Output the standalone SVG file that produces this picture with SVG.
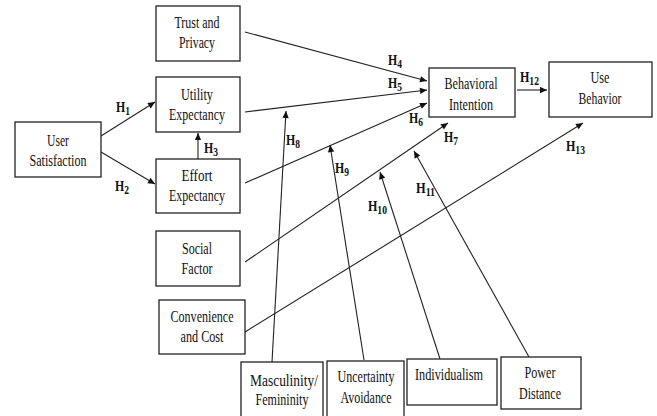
<svg xmlns="http://www.w3.org/2000/svg" width="657" height="416" viewBox="0 0 657 416">
<style>
.box{fill:#fff;stroke:#222;stroke-width:1.3}
.t{font-family:"Liberation Serif","Times New Roman",serif;font-size:17px;fill:#111;text-anchor:middle}
.h{font-family:"Liberation Serif","Times New Roman",serif;font-size:15px;font-weight:bold;fill:#111}
.s{font-size:12px}
.c line{stroke:#222;stroke-width:1.1;fill:none}
.a{marker-end:url(#ah)}
</style>
<defs>
<marker id="ah" viewBox="0 0 10 10" refX="10" refY="5" markerWidth="8" markerHeight="7" markerUnits="userSpaceOnUse" orient="auto">
<path d="M0,0.5 L10,5 L0,9.5 z" fill="#111"/>
</marker>
</defs>
<rect width="657" height="416" fill="#fff"/>
<g class="c">
<line class="a" x1="101" y1="136" x2="155" y2="102"/>
<line class="a" x1="101" y1="152" x2="155" y2="184"/>
<line class="a" x1="198" y1="159" x2="198" y2="133"/>
<line class="a" x1="245" y1="32" x2="427" y2="81"/>
<line class="a" x1="245" y1="112" x2="427" y2="90"/>
<line class="a" x1="245" y1="183" x2="427" y2="103"/>
<line class="a" x1="245" y1="262" x2="448" y2="123"/>
<line class="a" x1="245" y1="332" x2="583" y2="123"/>
<line class="a" x1="517" y1="90" x2="547" y2="90"/>
<line class="a" x1="272" y1="362" x2="286" y2="111"/>
<line class="a" x1="364" y1="360" x2="330" y2="145"/>
<line class="a" x1="440" y1="359" x2="380" y2="172"/>
<line class="a" x1="529" y1="357" x2="414" y2="151"/>
</g>
<g id="trust"><rect class="box" x="156" y="6" width="84" height="55"/><text class="t" x="197" y="28" textLength="45" lengthAdjust="spacingAndGlyphs">Trust and</text><text class="t" x="197" y="48" textLength="36" lengthAdjust="spacingAndGlyphs">Privacy</text></g>
<g id="utility"><rect class="box" x="156" y="77" width="84" height="55"/><text class="t" x="197" y="100" textLength="32" lengthAdjust="spacingAndGlyphs">Utility</text><text class="t" x="197" y="120" textLength="56" lengthAdjust="spacingAndGlyphs">Expectancy</text></g>
<g id="user"><rect class="box" x="15" y="122" width="86" height="55"/><text class="t" x="58" y="146" textLength="22" lengthAdjust="spacingAndGlyphs">User</text><text class="t" x="58" y="166" textLength="57" lengthAdjust="spacingAndGlyphs">Satisfaction</text></g>
<g id="effort"><rect class="box" x="156" y="159" width="84" height="54"/><text class="t" x="197" y="181" textLength="31" lengthAdjust="spacingAndGlyphs">Effort</text><text class="t" x="197" y="201" textLength="56" lengthAdjust="spacingAndGlyphs">Expectancy</text></g>
<g id="social"><rect class="box" x="156" y="231" width="84" height="55"/><text class="t" x="197" y="254" textLength="30" lengthAdjust="spacingAndGlyphs">Social</text><text class="t" x="197" y="274" textLength="31" lengthAdjust="spacingAndGlyphs">Factor</text></g>
<g id="convenience"><rect class="box" x="159" y="300" width="86" height="54"/><text class="t" x="202" y="322" textLength="63" lengthAdjust="spacingAndGlyphs">Convenience</text><text class="t" x="202" y="342" textLength="43" lengthAdjust="spacingAndGlyphs">and Cost</text></g>
<g id="masculinity"><rect class="box" x="241" y="362" width="82" height="58"/><text class="t" x="284" y="386" textLength="68" lengthAdjust="spacingAndGlyphs">Masculinity/</text><text class="t" x="282" y="405" textLength="53" lengthAdjust="spacingAndGlyphs">Femininity</text></g>
<g id="uncertainty"><rect class="box" x="327" y="361" width="77" height="59"/><text class="t" x="366" y="382" textLength="57" lengthAdjust="spacingAndGlyphs">Uncertainty</text><text class="t" x="366" y="403" textLength="51" lengthAdjust="spacingAndGlyphs">Avoidance</text></g>
<g id="individualism"><rect class="box" x="407" y="359" width="90" height="46"/><text class="t" x="449" y="380" textLength="68" lengthAdjust="spacingAndGlyphs">Individualism</text></g>
<g id="power"><rect class="box" x="501" y="357" width="80" height="52"/><text class="t" x="540" y="378" textLength="31" lengthAdjust="spacingAndGlyphs">Power</text><text class="t" x="540" y="399" textLength="42" lengthAdjust="spacingAndGlyphs">Distance</text></g>
<g id="intention"><rect class="box" x="429" y="68" width="86" height="49"/><text class="t" x="471" y="89" textLength="53" lengthAdjust="spacingAndGlyphs">Behavioral</text><text class="t" x="471" y="110" textLength="44" lengthAdjust="spacingAndGlyphs">Intention</text></g>
<g id="usebehavior"><rect class="box" x="549" y="62" width="103" height="55"/><text class="t" x="600" y="83" textLength="19" lengthAdjust="spacingAndGlyphs">Use</text><text class="t" x="600" y="104" textLength="43" lengthAdjust="spacingAndGlyphs">Behavior</text></g>
<g id="labels">
<text class="h" x="116" y="112" textLength="14" lengthAdjust="spacingAndGlyphs">H<tspan class="s" dy="3">1</tspan></text>
<text class="h" x="115" y="191" textLength="14" lengthAdjust="spacingAndGlyphs">H<tspan class="s" dy="3">2</tspan></text>
<text class="h" x="204" y="153" textLength="14" lengthAdjust="spacingAndGlyphs">H<tspan class="s" dy="3">3</tspan></text>
<text class="h" x="388" y="65" textLength="14" lengthAdjust="spacingAndGlyphs">H<tspan class="s" dy="3">4</tspan></text>
<text class="h" x="388" y="88" textLength="14" lengthAdjust="spacingAndGlyphs">H<tspan class="s" dy="3">5</tspan></text>
<text class="h" x="409" y="123" textLength="14" lengthAdjust="spacingAndGlyphs">H<tspan class="s" dy="3">6</tspan></text>
<text class="h" x="444" y="142" textLength="14" lengthAdjust="spacingAndGlyphs">H<tspan class="s" dy="3">7</tspan></text>
<text class="h" x="286" y="145" textLength="14" lengthAdjust="spacingAndGlyphs">H<tspan class="s" dy="3">8</tspan></text>
<text class="h" x="335" y="173" textLength="14" lengthAdjust="spacingAndGlyphs">H<tspan class="s" dy="3">9</tspan></text>
<text class="h" x="368" y="211" textLength="19" lengthAdjust="spacingAndGlyphs">H<tspan class="s" dy="3">10</tspan></text>
<text class="h" x="416" y="193" textLength="19" lengthAdjust="spacingAndGlyphs">H<tspan class="s" dy="3">11</tspan></text>
<text class="h" x="520" y="82" textLength="19" lengthAdjust="spacingAndGlyphs">H<tspan class="s" dy="3">12</tspan></text>
<text class="h" x="566" y="151" textLength="19" lengthAdjust="spacingAndGlyphs">H<tspan class="s" dy="3">13</tspan></text>
</g>
</svg>
